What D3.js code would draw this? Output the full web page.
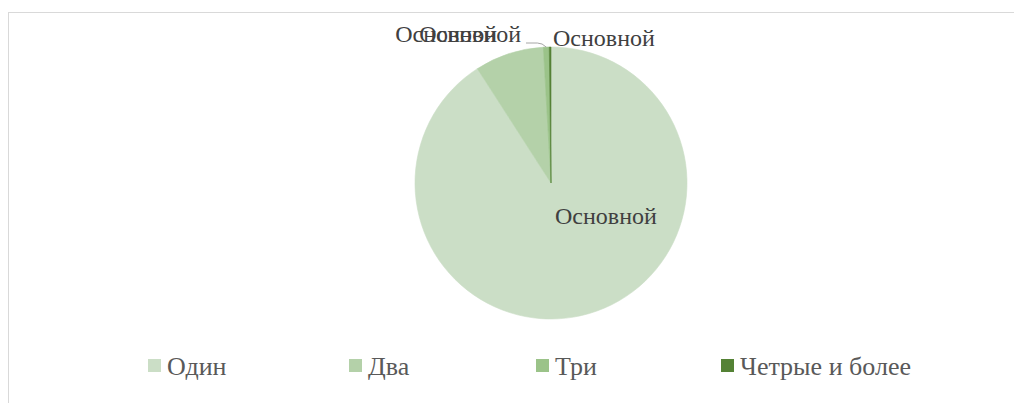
<!DOCTYPE html>
<html>
<head>
<meta charset="utf-8">
<script src="https://cdn.jsdelivr.net/npm/d3@7/dist/d3.min.js"></script>
<style>
  html, body { margin: 0; padding: 0; background: #ffffff; }
  svg { display: block; }
</style>
</head>
<body>
<svg id="chart" width="1014" height="403"></svg>
<script>
// Share of households by number of members
const categories = ["Один", "Два", "Три", "Четрые и более"];
const values = [90.9, 8.2, 0.7, 0.2];
const seriesName = "Основной";
const colors = ["#cbdec6", "#b4d1a9", "#9bc389", "#548235"];

const svg = d3.select("#chart");
const W = 1014, H = 403;

// chart frame
svg.append("rect")
  .attr("x", 8.5).attr("y", 12.5)
  .attr("width", W).attr("height", H)
  .attr("fill", "#ffffff")
  .attr("stroke", "#d9d9d9").attr("stroke-width", 1);

const cx = 551, cy = 183, r = 136;
const g = svg.append("g").attr("transform", `translate(${cx},${cy})`);

const pie = d3.pie().sort(null).value(d => d.v);
const arcs = pie(categories.map((c, i) => ({ c, v: values[i], i })));
const arc = d3.arc().innerRadius(0).outerRadius(r);

g.selectAll("path.slice")
  .data(arcs)
  .enter().append("path")
  .attr("class", "slice")
  .attr("d", arc)
  .attr("fill", d => colors[d.data.i])
  .attr("stroke", d => colors[d.data.i])
  .attr("stroke-width", 0.6);

const font = "'Liberation Serif', 'Times New Roman', serif";

// data labels
function pt(a, rad) { return [rad * Math.sin(a), -rad * Math.cos(a)]; }
const labelPos = [
  { anchor: "start", dx: 4, dy: 41 },
  { anchor: "end", dx: -54, dy: -141 },
  { anchor: "end", dx: -30, dy: -141 },
  { anchor: "start", dx: 2, dy: -137 }
];
g.selectAll("text.lbl")
  .data(arcs)
  .enter().append("text")
  .attr("class", "lbl")
  .attr("x", d => labelPos[d.data.i].dx)
  .attr("y", d => labelPos[d.data.i].dy)
  .attr("text-anchor", d => labelPos[d.data.i].anchor)
  .attr("font-family", font)
  .attr("font-size", 24)
  .attr("fill", "#404040")
  .text(seriesName);

// leader line for the third slice
const a3 = arcs[2];
const p = pt((a3.startAngle + a3.endAngle) / 2, r);
const ly = labelPos[2].dy + 1;
g.append("path")
  .attr("d", `M${p[0]},${p[1]} Q${p[0] - 4},${ly} ${p[0] - 9},${ly} L${labelPos[2].dx + 5},${ly}`)
  .attr("fill", "none")
  .attr("stroke", "#a6a6a6")
  .attr("stroke-width", 1);

// legend
const legendX = [148, 349, 536, 721];
const lg = svg.append("g");
const items = lg.selectAll("g.item")
  .data(categories)
  .enter().append("g")
  .attr("class", "item")
  .attr("transform", (d, i) => `translate(${legendX[i]},0)`);
items.append("rect")
  .attr("x", 0).attr("y", 359)
  .attr("width", 13).attr("height", 13)
  .attr("fill", (d, i) => colors[i]);
items.append("text")
  .attr("x", 19).attr("y", 375)
  .attr("font-family", font)
  .attr("font-size", 26)
  .attr("fill", "#595959")
  .text(d => d);
</script>
</body>
</html>
